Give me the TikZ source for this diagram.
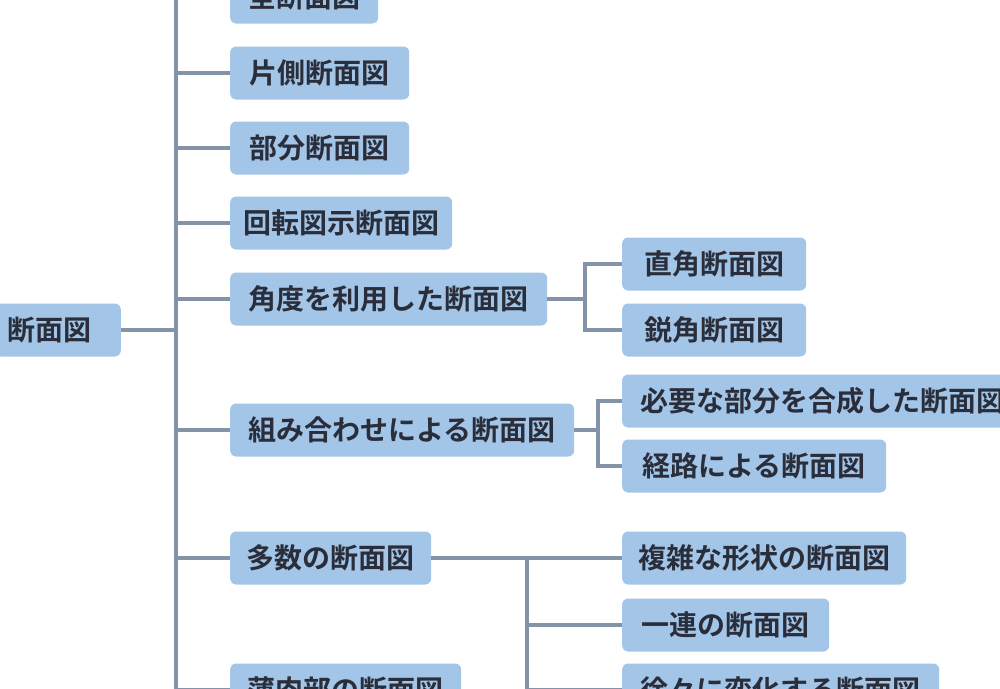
\documentclass[tikz,border=0pt]{standalone}
\usepackage{fontspec}
\setmainfont{Noto Sans CJK JP}[BoldFont={Noto Sans CJK JP Bold}]
\definecolor{nodefill}{HTML}{A3C5E8}
\definecolor{linecol}{HTML}{8593A8}
\definecolor{txtcol}{HTML}{2A2E3A}
\tikzset{
  box/.style={fill=nodefill, rounded corners=6pt, anchor=west, minimum height=53pt,
    inner xsep=0pt, minimum width=#1, text=txtcol, font=\fontsize{28}{28}\selectfont\bfseries},
  box/.default=150pt,
  conn/.style={draw=linecol, line width=4pt},
}
\begin{document}
\begin{tikzpicture}[x=1pt,y=-1pt]
\useasboundingbox (0,0) rectangle (1000,688);
\clip (0,0) rectangle (1000,688);
\fill[white] (0,0) rectangle (1000,688);
% trunk coordinates
\coordinate (tT) at (176,-10);
\coordinate (tB) at (176,700);
% root
\node[box=126pt, anchor=east, align=left, text width=100pt] (root) at (121,330) {断面図};
% level 1
\node[box=148pt] (n1) at (230,-3) {全断面図};
\node[box=179pt] (n2) at (230,73) {片側断面図};
\node[box=179pt] (n3) at (230,148) {部分断面図};
\node[box=222pt] (n4) at (230,223) {回転図示断面図};
\node[box=317pt] (n5) at (230,299) {角度を利用した断面図};
\node[box=344pt] (n6) at (230,430) {組み合わせによる断面図};
\node[box=201pt] (n7) at (230,558) {多数の断面図};
\node[box=231pt] (n8) at (230,690) {薄肉部の断面図};
% level 2
\node[box=184pt] (a1) at (622,264) {直角断面図};
\node[box=184pt] (a2) at (622,330) {鋭角断面図};
\node[box=400pt] (b1) at (622,401) {必要な部分を合成した断面図};
\node[box=264pt] (b2) at (622,466) {経路による断面図};
\node[box=284pt] (c1) at (622,558) {複雑な形状の断面図};
\node[box=207pt] (c2) at (622,625) {一連の断面図};
\node[box=317pt] (c3) at (622,690) {徐々に変化する断面図};
% connectors
\begin{scope}[on background layer/.try]
\draw[conn] (tT) -- (tB);
\draw[conn] (root.east) -- (root.east -| tT);
\foreach \n in {n1,n2,n3,n4,n5,n6,n7,n8}{
  \draw[conn] (\n.west -| tT) -- (\n.west);
}
\coordinate (ja) at (585,299);
\draw[conn] (n5.east) -- (ja);
\draw[conn] (a1.west) -| (ja) |- (a2.west);
\coordinate (jb) at (598,430);
\draw[conn] (n6.east) -- (jb);
\draw[conn] (b1.west) -| (jb) |- (b2.west);
\coordinate (jc) at (527,558);
\draw[conn] (n7.east) -- (c1.west);
\draw[conn] (jc) -- (jc |- c3.west);
\draw[conn] (jc |- c2.west) -- (c2.west);
\draw[conn] (jc |- c3.west) -- (c3.west);
\end{scope}
\end{tikzpicture}
\end{document}
